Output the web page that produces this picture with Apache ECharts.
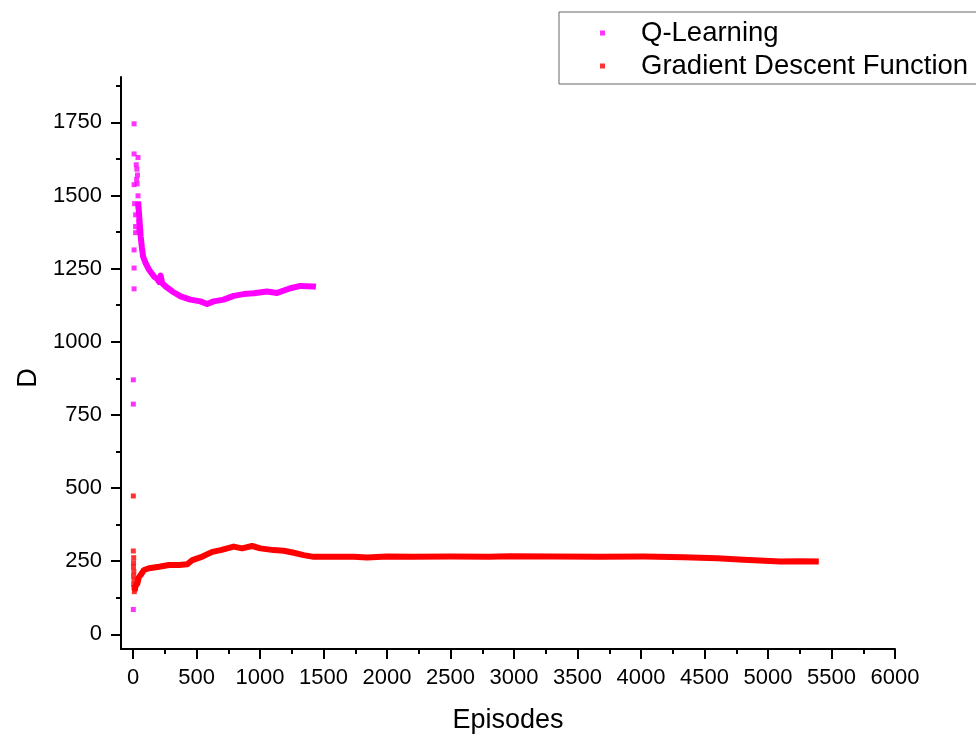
<!DOCTYPE html>
<html>
<head>
<meta charset="utf-8">
<script src="https://cdn.jsdelivr.net/npm/echarts@6/dist/echarts.min.js"></script>
<style>html,body{margin:0;padding:0;background:#fff}#c{width:976px;height:735px}</style>
</head>
<body>
<div id="c"></div>
<script>
// ---- data ----
const seriesNames = ['Q-Learning', 'Gradient Descent Function'];
const xTickValues = [0,500,1000,1500,2000,2500,3000,3500,4000,4500,5000,5500,6000];
const xMinorTickValues = [250,750,1250,1750,2250,2750,3250,3750,4250,4750,5250,5750];
const yTickValues = [0,250,500,750,1000,1250,1500,1750];
const yMinorTickValues = [125,375,625,875,1125,1375,1625,1875];

// Q-Learning: scattered early episodes
const qEarly = [[8,1745],[8,1642],[39,1630],[25,1605],[30,1590],[35,1570],[28,1555],[32,1540],[8,1537],
  [39,1499],[12,1472],[39,1462],[20,1434],[45,1411],[20,1394],[45,1383],[20,1373],[8,1314],[8,1252],
  [8,1181],[2,870],[2,787],[2,85]];
// Q-Learning: dense band
const qTrend = [[40,1480],[50,1420],[60,1360],[70,1320],[79,1291],[99,1269],[126,1246],[165,1223],
  [190,1215],[205,1205],[217,1226],[230,1200],[257,1189],[309,1172],[375,1155],[451,1144],[530,1138],
  [583,1129],[635,1138],[713,1144],[792,1157],[871,1163],[950,1166],[1055,1172],[1134,1167],[1239,1183],
  [1317,1191],[1422,1189],[1440,1188]];

// Gradient Descent: scattered early episodes
const gdEarly = [[2,473],[2,285],[5,262],[4,245],[3,231],[6,215],[4,200],[7,185],[5,170],[8,160],[10,146],[15,155]];
// Gradient Descent: dense band
const gdTrend = [[12,150],[20,165],[34,174],[45,195],[60,203],[86,220],[126,226],[205,231],[283,237],
  [362,237],[428,240],[467,254],[546,266],[624,282],[690,288],[792,300],[858,294],[937,302],[1002,294],
  [1107,288],[1186,286],[1265,279],[1343,271],[1422,265],[1580,265],[1737,265],[1842,263],[2000,266],
  [2200,265],[2500,266],[2800,265],[2971,267],[3300,266],[3680,265],[4021,266],[4335,264],[4598,260],
  [4808,255],[5097,249],[5250,250],[5400,249]];

const colors = ['#ff00ff', '#ff0000'];
const FONT = '"Liberation Sans", Arial, sans-serif';
const plain = v => String(v);

const chart = echarts.init(document.getElementById('c'), null, {renderer: 'canvas'});
const axisCommon = {
  type: 'value',
  splitLine: {show: false},
  axisLine: {show: true, onZero: false, lineStyle: {color: '#000', width: 2}},
};
chart.setOption({
  animation: false,
  backgroundColor: '#fff',
  grid: {left: 121, right: 81, top: 77, bottom: 86, containLabel: false, outerBoundsMode: 'none'},
  legend: {
    orient: 'vertical', left: 559, top: 12,
    padding: [7, 30, 4, 41],
    itemGap: 5, itemWidth: 5, itemHeight: 5,
    borderColor: '#666', borderWidth: 1,
    data: [{name: seriesNames[0], icon: 'rect'}, {name: seriesNames[1], icon: 'rect'}],
    textStyle: {fontFamily: FONT, fontSize: 27.5, color: '#000', lineHeight: 24, padding: [0, 0, 0, 31]}
  },
  xAxis: [
    Object.assign({}, axisCommon, {
      min: -95, max: 6000, position: 'bottom',
      name: 'Episodes', nameLocation: 'middle', nameGap: 58,
      nameTextStyle: {fontFamily: FONT, fontSize: 27, color: '#000'},
      axisTick: {show: true, inside: false, length: 10, lineStyle: {color: '#000', width: 2}, customValues: xTickValues},
      axisLabel: {show: true, margin: 18, fontFamily: FONT, fontSize: 22, color: '#000', customValues: xTickValues, formatter: plain}
    }),
    Object.assign({}, axisCommon, {
      min: -95, max: 6000, position: 'bottom',
      axisLine: {show: false, onZero: false},
      axisTick: {show: true, inside: false, length: 5, lineStyle: {color: '#000', width: 2}, customValues: xMinorTickValues},
      axisLabel: {show: false}
    })
  ],
  yAxis: [
    Object.assign({}, axisCommon, {
      min: -50, max: 1905, position: 'left',
      name: 'D', nameLocation: 'middle', nameGap: 79, nameRotate: 90,
      nameTextStyle: {fontFamily: FONT, fontSize: 27, color: '#000', padding: [0, 30, 0, 0]},
      axisTick: {show: true, inside: false, length: 10, lineStyle: {color: '#000', width: 2}, customValues: yTickValues},
      axisLabel: {show: true, margin: 19, fontFamily: FONT, fontSize: 22, color: '#000', customValues: yTickValues, formatter: plain}
    }),
    Object.assign({}, axisCommon, {
      min: -50, max: 1905, position: 'left',
      axisLine: {show: false, onZero: false},
      axisTick: {show: true, inside: false, length: 5, lineStyle: {color: '#000', width: 2}, customValues: yMinorTickValues},
      axisLabel: {show: false}
    })
  ],
  series: [
    {name: seriesNames[0], type: 'scatter', data: qEarly, symbol: 'rect', symbolSize: 5,
      itemStyle: {color: colors[0]}, z: 3},
    {name: seriesNames[0], type: 'line', data: qTrend, showSymbol: false, symbol: 'rect',
      lineStyle: {color: colors[0], width: 6, join: 'round'}, itemStyle: {color: colors[0]}, z: 3},
    {name: seriesNames[1], type: 'scatter', data: gdEarly, symbol: 'rect', symbolSize: 5,
      itemStyle: {color: colors[1]}, z: 2},
    {name: seriesNames[1], type: 'line', data: gdTrend, showSymbol: false, symbol: 'rect',
      lineStyle: {color: colors[1], width: 6, join: 'round'}, itemStyle: {color: colors[1]}, z: 2}
  ]
});
</script>
</body>
</html>
